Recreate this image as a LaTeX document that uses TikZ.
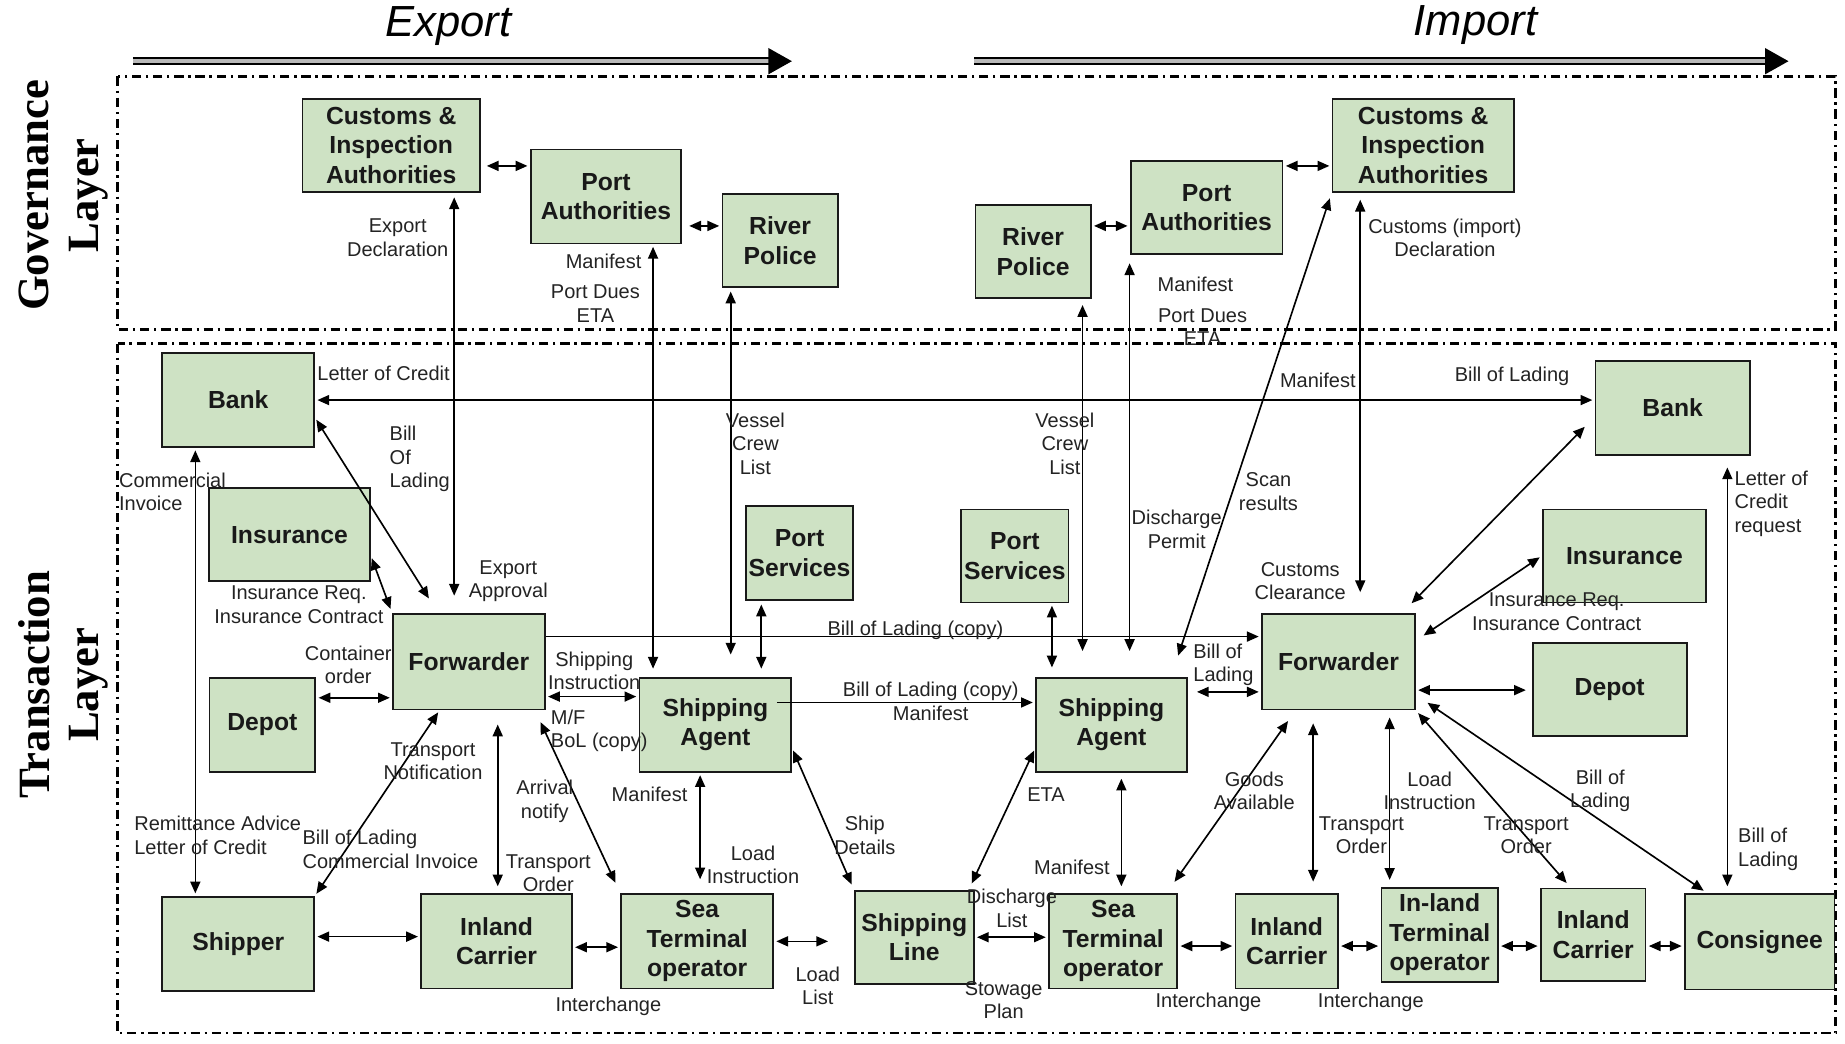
\documentclass[tikz,border=0pt]{standalone}
\usepackage{fontspec}
\setmainfont{Liberation Sans}
\newfontfamily\layerfont{Liberation Serif}
\usetikzlibrary{arrows.meta}
\definecolor{boxgreen}{RGB}{206,226,196}
\definecolor{msggray}{RGB}{35,35,35}
\def\boxfont{\bfseries\fontsize{21}{25}\selectfont}
\def\msgfont{\fontsize{17}{20}\selectfont}

\tikzset{
	actor/.style={draw=black!90, line width=1.5pt, fill=boxgreen, align=center, inner sep=0pt, font=\boxfont, text=black!90},
	msg/.style={align=center, inner sep=0pt, font=\msgfont, text=msggray},
	both/.style={draw=black, line width=1.4pt, {Triangle[length=10pt,width=8.5pt]}-{Triangle[length=10pt,width=8.5pt]}, shorten <=2pt, shorten >=2pt},
	one/.style={draw=black, line width=1.4pt, -{Triangle[length=10pt,width=8.5pt]}, shorten >=2pt},
	layerframe/.style={line width=2pt, dash pattern=on 8pt off 4pt on 2pt off 4pt},
	layerlbl/.style={align=center, inner sep=0pt, font=\layerfont\bfseries\fontsize{38}{42}\selectfont},
	title/.style={inner sep=0pt, font=\itshape\fontsize{37}{40}\selectfont},
	flow/.style={line width=1.8pt, double=gray!55, double distance=3pt, -{Triangle[length=20pt,width=22pt]}},
}

\begin{document}
\begin{tikzpicture}[x=1pt, y=-1pt]
	\useasboundingbox (0,0) rectangle (1568,887);

	%%%%% LAYERS %%%%%
	\draw[layerframe] (100,65) rectangle (1560,280);
	\draw[layerframe] (100,292) rectangle (1560,878);
	\node[layerlbl, rotate=90] (govLayer) at (54,166) {Governance\\Layer};
	\node[layerlbl, rotate=90] (trnLayer) at (54,582) {Transaction\\Layer};

	\coordinate (expFrom) at (113,52);
	\coordinate (expTo) at (673,52);
	\coordinate (impFrom) at (828,52);
	\coordinate (impTo) at (1520,52);
	\draw[flow] (expFrom) -- (expTo);
	\draw[flow] (impFrom) -- (impTo);
	\node[title] (expTitle) at (381,22) {Export};
	\node[title] (impTitle) at (1254,21) {Import};

	%%%%% GOVERNANCE %%%%%
	\node[actor, minimum width=151pt, minimum height=79pt] (custL) at (332.5,123.5) {Customs \&\\Inspection\\Authorities};
	\node[actor, minimum width=128pt, minimum height=80pt] (portL) at (515,167) {Port\\Authorities};
	\node[actor, minimum width=98pt, minimum height=79pt] (riverL) at (663,204.5) {River\\Police};
	\node[actor, minimum width=98pt, minimum height=79pt] (riverR) at (878,214) {River\\Police};
	\node[actor, minimum width=129pt, minimum height=79pt] (portR) at (1025.5,176.5) {Port\\Authorities};
	\node[actor, minimum width=154pt, minimum height=79pt] (custR) at (1209.5,123.5) {Customs \&\\Inspection\\Authorities};

	%%%%% TRANSACTION %%%%%
	\node[actor, minimum width=129pt, minimum height=80pt] (bankL) at (202.5,340) {Bank};
	\node[actor, minimum width=137pt, minimum height=79pt] (insL) at (246,454.5) {Insurance};
	\node[actor, minimum width=129pt, minimum height=81pt] (fwdL) at (398.5,562.5) {Forwarder};
	\node[actor, minimum width=90pt, minimum height=80pt] (depotL) at (223,616) {Depot};
	\node[actor, minimum width=91pt, minimum height=80pt] (svcL) at (679.5,470) {Port\\Services};
	\node[actor, minimum width=129pt, minimum height=80pt] (agentL) at (608,616) {Shipping\\Agent};
	\node[actor, minimum width=129pt, minimum height=80pt] (shipper) at (202.5,802) {Shipper};
	\node[actor, minimum width=128pt, minimum height=80pt] (carrierL) at (422,800) {Inland\\Carrier};
	\node[actor, minimum width=129pt, minimum height=80pt] (seaL) at (592.5,800) {Sea\\Terminal\\operator};
	\node[actor, minimum width=101pt, minimum height=79pt] (liner) at (777,796.5) {Shipping\\Line};
	\node[actor, minimum width=91pt, minimum height=79pt] (svcR) at (862.5,472.5) {Port\\Services};
	\node[actor, minimum width=128pt, minimum height=80pt] (agentR) at (944.5,616) {Shipping\\Agent};
	\node[actor, minimum width=109pt, minimum height=80pt] (seaR) at (946,800) {Sea\\Terminal\\operator};
	\node[actor, minimum width=130pt, minimum height=81pt] (fwdR) at (1137.5,562.5) {Forwarder};
	\node[actor, minimum width=87pt, minimum height=80pt] (carrierR) at (1093.5,800) {Inland\\Carrier};
	\node[actor, minimum width=99pt, minimum height=80pt] (itermR) at (1223.5,794.5) {In-land\\Terminal\\operator};
	\node[actor, minimum width=89pt, minimum height=79pt] (carrierX) at (1354,794.5) {Inland\\Carrier};
	\node[actor, minimum width=127pt, minimum height=81pt] (consignee) at (1495.5,800.5) {Consignee};
	\node[actor, minimum width=131pt, minimum height=80pt] (bankR) at (1421.5,346.5) {Bank};
	\node[actor, minimum width=139pt, minimum height=79pt] (insR) at (1380.5,472.5) {Insurance};
	\node[actor, minimum width=131pt, minimum height=79pt] (depotR) at (1368,586) {Depot};

	%%%%% MESSAGES %%%%%
	\draw[both, shorten <=5pt] ([yshift=-17.5pt]custL.east) -- ([yshift=-17.5pt]custL.east -| portL.west);
	\draw[both, shorten <=6pt] ([yshift=-25pt]portL.east) -- ([yshift=-25pt]portL.east -| riverL.west);
	\draw[both] ([yshift=22pt]riverR.east) -- ([yshift=22pt]riverR.east -| portR.west);
	\draw[both] ([yshift=35.5pt]portR.east) -- ([yshift=35.5pt]portR.east -| custR.west);

	\draw[both, shorten <=4pt, shorten >=15pt] ([xshift=53.5pt]custL.south) -- ([xshift=53.5pt]custL.south |- fwdL.north);
	\draw[both, shorten >=7pt] ([xshift=40pt]portL.south) -- ([xshift=40pt]portL.south |- agentL.north);
	\draw[both, shorten <=3pt, shorten >=19pt] ([xshift=-42pt]riverL.south) -- ([xshift=-42pt]riverL.south |- agentL.north);
	\draw[both, shorten <=3pt, shorten >=7pt] ([xshift=-32.5pt]svcL.south) -- ([xshift=-32.5pt]svcL.south |- agentL.north);
	\draw[both, shorten <=5pt, shorten >=22pt] ([xshift=42pt]riverR.south) -- ([xshift=42pt]riverR.south |- agentR.north);
	\draw[both, shorten <=7pt, shorten >=22pt] ([xshift=-65.5pt]portR.south) -- ([xshift=-65.5pt]portR.south |- agentR.north);
	\draw[both, shorten >=8pt] ([xshift=31.5pt]svcR.south) -- ([xshift=31.5pt]svcR.south |- agentR.north);
	\draw[both, shorten <=5pt, shorten >=19pt] (custR.south west) -- ([xshift=-14pt]agentR.north east);
	\draw[both, shorten <=6pt, shorten >=18pt] ([xshift=-53.5pt]custR.south) -- ([xshift=-53.5pt]custR.south |- fwdR.north);

	\draw[both] (bankL.east) -- (bankL.east -| bankR.west);
	\draw[both, shorten >=15pt] ([yshift=-15pt]bankL.east) -- ([xshift=-26pt]fwdL.north);
	\draw[both, shorten >=4pt] ([yshift=-18pt]insL.east) -- (fwdL.north west);
	\draw[both] ([xshift=-36.5pt]bankL.south) -- ([xshift=-36.5pt]bankL.south |- shipper.north);
	\draw[both] ([yshift=23pt]depotL.east) -- ([yshift=23pt]depotL.east -| fwdL.west);
	\draw[both] ([yshift=-29.5pt]fwdL.east) -- ([yshift=-29.5pt]fwdL.east -| agentL.west);
	\draw[one] ([yshift=21.5pt]fwdL.east) -- ([yshift=21.5pt]fwdL.east -| fwdR.west);
	\draw[one] ([xshift=-13pt, yshift=19pt]agentL.east) -- ([yshift=19pt]agentL.east -| agentR.west);
	\draw[both, shorten <=8pt] ([yshift=28pt]agentR.east) -- ([yshift=28pt]agentR.east -| fwdR.west);
	\draw[both] ([xshift=-25pt]fwdL.south) -- (shipper.north east);
	\draw[both, shorten <=12pt, shorten >=6pt] ([xshift=24.5pt]fwdL.south) -- ([xshift=24.5pt]fwdL.south |- carrierL.north);
	\draw[both, shorten <=11pt, shorten >=10pt] ([xshift=-9pt]fwdL.south east) -- (seaL.north west);
	\draw[both, shorten >=12pt] ([xshift=-13pt]agentL.south) -- ([xshift=-13pt]agentL.south |- seaL.north);
	\draw[both, shorten >=5pt] ([yshift=-20pt]agentL.east) -- (liner.north west);
	\draw[both] ([yshift=6pt]shipper.east) -- ([yshift=6pt]shipper.east -| carrierL.west);
	\draw[both] ([yshift=-5pt]carrierL.east) -- ([yshift=-5pt]carrierL.east -| seaL.west);
	\draw[both] (seaL.east) -- ([xshift=-20pt]seaL.east -| liner.west);
	\draw[both] (liner.east) -- (liner.east -| seaR.west);
	\draw[both, shorten >=6pt] ([yshift=-20pt]agentR.west) -- ([xshift=-5pt]liner.north east);
	\draw[both, shorten <=5pt, shorten >=6pt] ([xshift=8.5pt]agentR.south) -- ([xshift=8.5pt]agentR.south |- seaR.north);
	\draw[both, shorten <=11pt, shorten >=12pt] ([xshift=-36.5pt]fwdR.south) -- ([xshift=-10pt]seaR.north east);
	\draw[both, shorten <=11pt, shorten >=10pt] ([xshift=-21.5pt]fwdR.south) -- ([xshift=-21.5pt]fwdR.south |- carrierR.north);
	\draw[both, shorten <=6pt, shorten >=6pt] ([xshift=43.5pt]fwdR.south) -- ([xshift=43.5pt]fwdR.south |- itermR.north);
	\draw[both, shorten <=3pt, shorten >=5pt] (fwdR.south east) -- ([xshift=26pt]carrierX.north west);
	\draw[both, shorten <=12pt, shorten >=4pt] ([yshift=-28pt]fwdR.east) -- ([xshift=20pt]consignee.north west);
	\draw[both, shorten <=12pt] ([xshift=-12pt]fwdR.north east) -- ([xshift=-7pt, yshift=26pt]bankR.south west);
	\draw[both, shorten <=8pt] ([yshift=18pt]fwdR.east) -- (insR.west);
	\draw[both, shorten >=5pt] ([yshift=-24pt]fwdR.east) -- ([yshift=-24pt]fwdR.east -| depotR.west);
	\draw[both, shorten <=10pt, shorten >=6pt] ([xshift=46.5pt]bankR.south) -- ([xshift=46.5pt]bankR.south |- consignee.north);
	\draw[both] ([yshift=-4pt]seaR.east) -- ([yshift=-4pt]seaR.east -| carrierR.west);
	\draw[both] ([yshift=-4pt]carrierR.east) -- ([yshift=-4pt]carrierR.east -| itermR.west);
	\draw[both] ([yshift=-9.5pt]itermR.east) -- ([yshift=-9.5pt]itermR.east -| carrierX.west);
	\draw[both] ([yshift=-9.5pt]carrierX.east) -- ([yshift=-9.5pt]carrierX.east -| consignee.west);

	%%%%% LABELS %%%%%
	\node[msg] (mExpDecl) at (338,202) {Export\\Declaration};
	\node[msg] (mManL) at (513,222) {Manifest};
	\node[msg] (mDuesL) at (506,258) {Port Dues\\ETA};
	\node[msg] (mCrewL) at (642,377) {Vessel\\Crew\\List};
	\node[msg] (mCrewR) at (905,377) {Vessel\\Crew\\List};
	\node[msg] (mManR) at (1016,242) {Manifest};
	\node[msg] (mDuesR) at (1022,278) {Port Dues\\ETA};
	\node[msg] (mCusDecl) at (1228,202) {Customs (import)\\Declaration};
	\node[msg] (mLoC) at (326,317) {Letter of Credit};
	\node[msg, align=left, anchor=west] (mBoLL) at (331,390) {Bill\\Of\\Lading};
	\node[msg, align=left, anchor=west] (mComInv) at (101,418) {Commercial\\Invoice};
	\node[msg] (mInsL) at (254,514) {Insurance Req.\\Insurance Contract};
	\node[msg] (mExpAppr) at (432,494) {Export\\Approval};
	\node[msg] (mCont) at (296,565) {Container\\order};
	\node[msg] (mShipInst) at (505,570) {Shipping\\Instruction};
	\node[msg, align=left, anchor=west] (mMF) at (468,621) {M/F\\BoL (copy)};
	\node[msg] (mBoLcopy) at (778,536) {Bill of Lading (copy)};
	\node[msg] (mBoLMan) at (791,596) {Bill of Lading (copy)\\Manifest};
	\node[msg, align=left, anchor=west] (mBoLAg) at (1014,565) {Bill of\\Lading};
	\node[msg] (mDisPer) at (1000,450) {Discharge\\Permit};
	\node[msg] (mScan) at (1078,418) {Scan\\results};
	\node[msg] (mManBank) at (1120,323) {Manifest};
	\node[msg] (mBoLBank) at (1285,320) {Bill of Lading};
	\node[msg] (mCusClr) at (1105,494) {Customs\\Clearance};
	\node[msg] (mInsR) at (1323,520) {Insurance Req.\\Insurance Contract};
	\node[msg, align=left, anchor=west] (mLoCReq) at (1474,428) {Letter of\\Credit\\request};
	\node[msg] (mTrNot) at (368,647) {Transport\\Notification};
	\node[msg, align=left, anchor=west] (mBoLCom) at (257,722) {Bill of Lading\\Commercial Invoice};
	\node[msg, align=left, anchor=west] (mRemit) at (114,710) {Remittance Advice\\Letter of Credit};
	\node[msg] (mArr) at (463,681) {Arrival\\notify};
	\node[msg] (mTrOrdL) at (466,742) {Transport\\Order};
	\node[msg] (mManAgL) at (552,675) {Manifest};
	\node[msg] (mLoadL) at (640,735) {Load\\Instruction};
	\node[msg] (mShipDet) at (735,710) {Ship\\Details};
	\node[msg] (mLoadList) at (695,838) {Load\\List};
	\node[msg] (mInterL) at (517,855) {Interchange};
	\node[msg] (mDisList) at (860,772) {Discharge\\List};
	\node[msg] (mStow) at (853,850) {Stowage\\Plan};
	\node[msg] (mETA) at (889,675) {ETA};
	\node[msg] (mManAgR) at (911,737) {Manifest};
	\node[msg] (mGoods) at (1066,672) {Goods\\Available};
	\node[msg] (mTrOrdR) at (1157,710) {Transport\\Order};
	\node[msg] (mLoadR) at (1215,672) {Load\\Instruction};
	\node[msg] (mTrOrdX) at (1297,710) {Transport\\Order};
	\node[msg] (mBoLCons) at (1360,672) {Bill of\\Lading};
	\node[msg, align=left, anchor=west] (mBoLBankR) at (1477,722) {Bill of\\Lading};
	\node[msg] (mInterR) at (1027,852) {Interchange};
	\node[msg] (mInterX) at (1165,852) {Interchange};
\end{tikzpicture}
\end{document}
